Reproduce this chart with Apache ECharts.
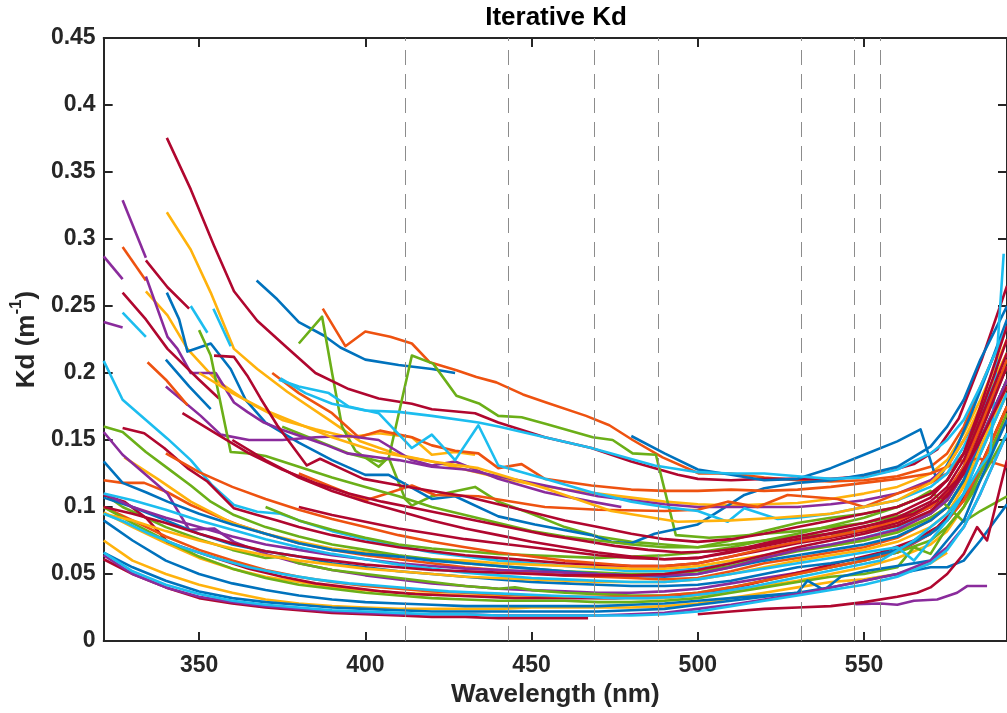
<!DOCTYPE html>
<html><head><meta charset="utf-8">
<script src="https://cdn.jsdelivr.net/npm/echarts@6/dist/echarts.min.js"></script>
<style>html,body{margin:0;padding:0;background:#fff;overflow:hidden}#c{width:1007px;height:713px}</style>
</head><body><div id="c"></div>
<script>
// Wavelength bands marked with dashed lines (nm)
const bandLines = [412, 443, 469, 488, 531, 547, 555];

// Kd spectra, [wavelength nm, Kd m^-1], grouped by line colour
const blueLines = [
  [[367.3,.269],[373.5,.255],[380,.238],[387.5,.228],[392.5,.219],[400,.21],[410,.206],[420,.203],[427,.2]],
  [[480,.153],[490,.14],[500,.128],[510,.124],[520,.12],[530,.121],[540,.129],[550,.139],[560,.149],[567,.158],[572,.119],[577,.14],[582,.168],[587,.2],[593,.24]],
  [[340.3,.26],[344,.24],[346.5,.216],[353.5,.222],[359.5,.203],[364,.18],[370,.163],[380,.148],[390,.135],[400,.124],[407,.124],[420,.106],[427,.108],[440,.093],[451,.087],[468,.079],[474,.074],[480,.073],[487,.08],[500,.087],[509,.101],[514,.109],[520,.114],[530,.118],[540,.12],[550,.124],[560,.13],[570,.145],[575,.16],[580,.18],[585,.21],[593,.25]],
  [[340,.21],[347,.19],[353.5,.173]],
  [[321.3,.134],[327,.118],[334,.111],[340.5,.104],[350,.095],[360,.087],[370,.08],[380,.073],[390,.068],[400,.065],[410,.063],[420,.06],[430,.058],[440,.056],[450,.054],[460,.052],[470,.05],[480,.049],[490,.048],[500,.05],[510,.055],[520,.06],[530,.064],[540,.068],[550,.072],[560,.078],[570,.09],[575,.1],[580,.12],[585,.15],[593,.195]],
  [[321.3,.09],[330,.075],[340,.06],[350,.05],[360,.043],[370,.038],[380,.034],[390,.031],[400,.029],[410,.028],[420,.027],[430,.026],[440,.026],[450,.026],[460,.026],[470,.026],[480,.027],[490,.028],[500,.03],[510,.032],[520,.034],[530,.036],[540,.04],[550,.045],[560,.05],[570,.055],[575,.055],[580,.06],[585,.075],[593,.102]],
  [[321.3,.107],[330,.1],[340,.09],[350,.08],[360,.072],[370,.067],[380,.063],[390,.058],[400,.055],[410,.052],[420,.05],[430,.048],[440,.046],[450,.044],[460,.043],[470,.042],[480,.041],[490,.041],[500,.042],[510,.045],[520,.05],[530,.055],[540,.058],[550,.062],[560,.068],[570,.08],[575,.09],[580,.11],[585,.14],[593,.185]],
  [[321.3,.066],[330,.055],[340,.045],[350,.037],[360,.032],[370,.029],[380,.027],[390,.025],[400,.024],[410,.023],[420,.022],[430,.022],[440,.022],[450,.022],[460,.022],[470,.022],[480,.023],[490,.024],[500,.027],[510,.03],[520,.033],[530,.036],[533,.045],[538,.038],[543,.048],[550,.052],[560,.056],[570,.06],[575,.075],[580,.09],[585,.12],[593,.165]]
];
const orangeLines = [
  [[387.2,.248],[394,.22],[400,.231],[407.5,.227],[414,.222],[419.4,.208],[427.4,.202],[433.4,.197],[439.4,.193],[447.4,.184],[454.4,.178],[466.4,.168],[473.4,.161],[480.4,.15],[489.4,.137],[500.4,.125],[510,.125],[520,.122],[530,.12],[540,.119],[550,.12],[560,.123],[570,.13],[575,.14],[580,.16],[585,.19],[593,.235]],
  [[327,.294],[334,.269]],
  [[321.3,.12],[327,.118],[333.5,.118],[340.5,.111],[347.5,.1015],[355.5,.093],[361.5,.087],[370,.08],[380,.073],[390,.068],[400,.064],[410,.061],[420,.058],[430,.055],[440,.053],[450,.051],[460,.049],[470,.048],[480,.047],[490,.046],[500,.047],[510,.052],[520,.058],[530,.062],[540,.066],[550,.07],[560,.077],[570,.09],[575,.1],[580,.12],[585,.15],[593,.195]],
  [[372,.2],[380,.185],[390,.17],[398,.152],[404.4,.157],[414,.152],[420,.146],[427,.142],[434,.14],[440,.129],[447,.132],[454,.121],[468,.116],[480,.113],[490,.112],[500,.112],[510,.113],[520,.112],[530,.113],[540,.115],[550,.118],[560,.121],[570,.125],[580,.135],[585,.136],[593,.13]],
  [[380,.125],[390,.115],[400,.105],[404,.108],[414,.116],[421,.109],[434,.108],[454,.1],[470,.098],[490,.097],[500,.098],[509,.104],[518,.1],[527,.109],[542,.106],[550,.1],[560,.11],[570,.118],[575,.125],[580,.14],[585,.16],[593,.205]],
  [[321.3,.1],[330,.09],[340,.078],[350,.068],[360,.06],[370,.053],[380,.048],[390,.044],[400,.041],[410,.039],[420,.037],[430,.036],[440,.035],[450,.034],[460,.033],[470,.033],[480,.033],[490,.034],[500,.036],[510,.04],[520,.045],[530,.05],[540,.055],[550,.06],[560,.067],[570,.08],[575,.09],[580,.105],[585,.13],[593,.175]],
  [[334.5,.208],[340,.195],[346.5,.176]],
  [[340,.14],[350,.126],[360,.115],[370,.106],[380,.098],[390,.091],[400,.085],[410,.079],[420,.074],[430,.07],[440,.066],[450,.063],[460,.06],[470,.058],[480,.056],[490,.056],[500,.058],[510,.063],[520,.069],[530,.074],[540,.078],[550,.083],[560,.09],[570,.1],[575,.112],[580,.13],[585,.16],[593,.21]]
];
const yellowLines = [
  [[340.3,.32],[347.5,.292],[353.5,.26],[360.5,.218],[367.5,.203],[376.5,.186],[388.5,.166],[398.5,.149],[410,.139],[420,.134],[430,.128],[440,.122],[450,.117],[460,.113],[470,.11],[480,.107],[490,.104],[500,.102],[510,.101],[520,.102],[530,.103],[540,.106],[550,.11],[560,.115],[570,.125],[575,.135],[580,.155],[585,.18],[593,.225]],
  [[334,.261],[340.5,.243],[346.5,.218],[355,.195],[365,.178],[375,.165],[385,.158],[395,.152],[404,.155],[414,.152],[420,.139],[427,.141],[433,.139]],
  [[327.5,.137],[337.5,.121],[347.5,.104],[360,.088],[370,.08],[380,.074],[390,.069],[400,.066],[410,.063],[420,.061],[430,.06],[440,.058],[450,.057],[460,.056],[470,.055],[480,.054],[490,.054],[500,.056],[510,.06],[520,.064],[530,.068],[540,.071],[550,.075],[560,.082],[570,.092],[575,.1],[580,.118],[585,.145],[593,.19]],
  [[321.3,.096],[330,.085],[340,.073],[350,.062],[360,.054],[370,.048],[380,.044],[390,.04],[400,.038],[410,.036],[420,.035],[430,.034],[440,.034],[450,.034],[460,.033],[470,.032],[480,.032],[490,.032],[500,.034],[510,.037],[520,.041],[530,.045],[540,.05],[550,.055],[560,.062],[570,.072],[575,.082],[580,.1],[585,.13],[593,.175]],
  [[321.3,.075],[330,.06],[340,.05],[350,.042],[360,.036],[370,.031],[380,.028],[390,.026],[400,.025],[410,.024],[420,.024],[430,.024],[440,.024],[450,.025],[460,.025],[470,.025],[480,.025],[490,.026],[500,.028],[510,.032],[520,.036],[530,.04],[540,.044],[550,.046],[560,.05],[570,.058],[575,.066]],
  [[350,.2],[360,.185],[370,.172],[380,.162],[390,.152],[400,.144],[404,.141],[420,.134],[434,.129],[454,.114],[474,.097],[494,.089],[510,.09],[524,.092],[540,.095],[550,.1],[560,.105],[570,.118],[575,.13],[580,.15],[585,.175],[593,.215]],
  [[321.3,.095],[330,.09],[340,.082],[350,.075],[360,.069],[370,.064],[380,.06],[390,.057],[400,.054],[410,.052],[420,.05],[430,.048],[440,.047],[450,.046],[460,.045],[470,.044],[480,.044],[490,.044],[500,.046],[510,.05],[520,.055],[530,.06],[540,.064],[550,.068],[560,.074],[570,.085],[575,.095],[580,.115],[585,.14],[593,.185]]
];
const purpleLines = [
  [[327,.329],[334,.286]],
  [[321.3,.287],[327,.27]],
  [[334,.272],[340.5,.227],[343.5,.218],[347.5,.2],[355,.2],[360.5,.178],[364.5,.171],[369.5,.163],[374.5,.158],[381.5,.152],[388.5,.146],[394.5,.14],[404,.137],[410,.135],[420,.13],[430,.128],[440,.123],[450,.118],[460,.113],[470,.108],[480,.105],[490,.102],[500,.1],[510,.1],[520,.1],[530,.1],[540,.102],[550,.105],[560,.11],[570,.12],[575,.13],[580,.15],[585,.17],[593,.205]],
  [[321.3,.156],[327,.139],[334,.124],[340.5,.11],[347,.083],[354.5,.084],[360.5,.074],[370,.065],[380,.058],[390,.053],[400,.049],[410,.046],[420,.043],[430,.041],[440,.039],[450,.038],[460,.037],[470,.036],[480,.036],[490,.037],[500,.039],[510,.043],[520,.047],[530,.051],[540,.055],[550,.06],[560,.066],[570,.08],[575,.09],[580,.105],[585,.125],[593,.165]],
  [[340,.19],[350.5,.168],[356.5,.154],[365,.15],[375,.15],[385,.152],[395,.153],[404,.15],[414,.135],[420,.131],[427,.134],[440,.121],[454,.111],[468,.104],[477,.1]],
  [[321.3,.238],[327,.234]],
  [[547.4,.0275],[555,.028],[560,.027],[565,.03],[572,.031],[578,.036],[581,.041],[587,.041]],
  [[321.3,.064],[330,.05],[340,.04],[350,.033],[360,.029],[370,.026],[380,.024],[390,.022],[400,.021],[410,.02],[420,.02],[430,.02],[440,.019],[450,.019],[460,.019],[470,.019],[480,.02],[490,.021],[500,.024],[510,.027],[520,.031],[530,.035],[540,.04],[550,.045],[560,.05],[570,.06],[575,.07],[580,.085],[585,.11],[593,.155]],
  [[321.3,.11],[330,.1],[340,.092],[350,.085],[360,.078],[370,.072],[380,.068],[390,.064],[400,.061],[410,.058],[420,.056],[430,.054],[440,.053],[450,.052],[460,.051],[470,.05],[480,.049],[490,.049],[500,.05],[510,.055],[520,.062],[530,.068],[540,.072],[550,.077],[560,.083],[570,.095],[575,.105],[580,.125],[585,.15],[593,.195]]
];
const greenLines = [
  [[380,.222],[387,.242],[390,.2],[393,.16],[397,.142],[404,.13],[407,.137],[412,.106],[414,.101],[420,.108],[433,.115],[440,.104],[450,.095],[460,.085],[470,.078],[480,.074],[490,.072],[500,.07],[510,.072],[520,.075],[530,.078],[540,.08],[550,.082],[560,.086],[570,.095],[575,.105],[580,.125],[585,.15],[593,.195]],
  [[375,.16],[385,.15],[395,.14],[404.4,.134],[407,.136],[414,.213],[420.4,.207],[427.4,.183],[434.4,.177],[440,.168],[447,.167],[454.4,.162],[468.4,.152],[474.4,.15],[480.4,.14],[487.4,.139],[493.4,.079],[503.4,.077],[510,.078],[520,.08],[530,.082],[540,.085],[550,.088],[560,.093],[570,.1],[575,.11],[580,.13],[585,.16],[593,.205]],
  [[321.3,.16],[327,.156],[334,.141],[340.5,.129],[347.5,.116],[353.5,.104],[360.5,.094],[370,.085],[380,.078],[390,.072],[400,.068],[410,.064],[420,.061],[430,.058],[440,.056],[450,.054],[460,.052],[470,.051],[480,.05],[490,.05],[500,.052],[510,.056],[520,.062],[530,.067],[540,.071],[550,.075],[560,.081],[570,.092],[575,.1],[580,.12],[585,.15],[593,.195]],
  [[321.3,.11],[327,.1],[334,.092],[340,.085],[350,.076],[360,.068],[370,.062],[375,.063],[380,.058],[390,.053],[400,.05],[410,.047],[420,.044],[430,.041],[440,.039],[445,.04],[450,.038],[460,.036],[470,.035],[480,.034],[490,.034],[500,.036],[510,.04],[520,.045],[530,.05],[540,.055],[550,.06],[560,.066],[570,.075],[575,.085],[580,.1],[585,.125],[593,.17]],
  [[350,.232],[353.5,.213],[359.5,.141],[365,.14],[370,.138],[380,.13],[390,.122],[400,.115],[410,.108],[420,.1],[430,.094],[440,.088],[450,.082],[460,.078],[470,.075],[480,.072],[490,.07],[500,.07],[510,.075],[520,.082],[530,.088],[540,.092],[550,.095],[560,.1],[570,.11],[575,.12],[580,.14],[585,.165],[593,.205]],
  [[321.3,.1],[330,.088],[340,.075],[350,.063],[360,.054],[370,.047],[380,.042],[390,.039],[400,.036],[410,.034],[420,.032],[430,.031],[440,.03],[450,.03],[460,.03],[470,.029],[480,.029],[490,.03],[500,.032],[510,.036],[520,.04],[530,.044],[540,.048],[550,.05],[560,.055],[565,.07],[570,.065],[575,.085],[580,.1],[585,.12],[593,.155]],
  [[370,.1],[380,.09],[390,.083],[400,.077],[410,.072],[420,.069],[430,.067],[440,.065],[450,.064],[460,.063],[470,.062],[480,.063],[490,.064],[500,.066],[510,.07],[520,.075],[530,.08],[540,.086],[550,.092],[560,.1],[565,.105],[570,.112],[580,.089],[585,.097],[593,.108]]
];
const cyanLines = [
  [[321.3,.209],[327,.18],[334,.165],[340.5,.151],[347.5,.135],[354,.116],[360.5,.1015],[367.5,.0965],[374.5,.095],[380,.09],[390,.082],[400,.076],[410,.071],[420,.066],[430,.063],[440,.06],[450,.058],[460,.056],[470,.054],[480,.052],[490,.052],[500,.054],[510,.058],[520,.063],[530,.068],[540,.072],[550,.077],[560,.084],[570,.095],[575,.108],[580,.13],[585,.16],[593,.205]],
  [[327,.245],[334,.227]],
  [[347.5,.25],[352.5,.23]],
  [[354.3,.248],[359.5,.22]],
  [[374,.195],[380,.19],[389,.185],[395,.175],[404,.17],[414,.144],[420,.154],[427,.135],[434,.161],[440,.131],[454,.121],[468,.111],[480,.104],[490,.1],[500,.097],[509,.089],[514,.099],[524,.091],[530,.092],[540,.095],[550,.1],[560,.105],[570,.115],[575,.125],[580,.145],[585,.17],[593,.215]],
  [[374.5,.196],[382,.185],[390,.177],[400,.172],[410,.171],[420,.168],[434,.163],[440,.16],[468,.144],[487,.131],[500,.126],[510,.125],[520,.125],[530,.123],[540,.121],[550,.122],[560,.128],[570,.14],[575,.15],[580,.165],[585,.19],[593,.235]],
  [[321.3,.095],[327.5,.089],[335,.08],[345,.07],[355,.062],[365,.055],[375,.05],[385,.046],[395,.043],[405,.041],[415,.039],[425,.037],[435,.036],[445,.035],[455,.034],[465,.033],[475,.032],[485,.032],[495,.033],[505,.036],[515,.04],[525,.045],[535,.05],[545,.055],[555,.06],[565,.075],[575,.095],[580,.11],[585,.13],[588,.14],[592,.289]],
  [[321.3,.066],[330,.052],[340,.042],[350,.035],[360,.03],[370,.027],[380,.025],[390,.023],[400,.022],[410,.021],[420,.02],[430,.02],[440,.019],[450,.019],[460,.019],[470,.019],[480,.019],[490,.02],[500,.022],[510,.026],[520,.03],[530,.034],[540,.038],[550,.042],[560,.048],[570,.058],[575,.068],[580,.085],[585,.11],[593,.155]],
  [[321.3,.11],[330,.105],[340,.098],[350,.09],[360,.083],[370,.076],[380,.07],[390,.065],[400,.061],[410,.057],[420,.054],[430,.051],[440,.049],[450,.047],[460,.046],[470,.045],[480,.044],[490,.044],[500,.046],[510,.05],[520,.054],[530,.058],[540,.062],[550,.066],[560,.07],[565,.06],[570,.075],[575,.09],[580,.11],[585,.14],[593,.185]]
];
const redLines = [
  [[340.3,.3755],[347.5,.337],[354.5,.295],[360.5,.261],[367.5,.239],[376.4,.219],[385,.2],[395,.188],[404,.181],[414,.177],[420,.173],[433,.17],[440,.163],[454,.152],[468,.144],[480,.134],[494,.124],[500,.121],[510,.12],[520,.121],[530,.121],[540,.121],[550,.123],[558,.127],[565,.132],[572,.143],[578.5,.166],[585.4,.21],[593,.265]],
  [[334,.284],[340.5,.264],[347,.248]],
  [[327,.26],[334,.24],[340.5,.218],[350,.195],[356,.181]],
  [[327,.159],[333.5,.155],[339.5,.144],[346.5,.129],[352.5,.119],[360.5,.099],[367.5,.094],[373.5,.09],[380,.085],[390,.079],[400,.074],[410,.07],[420,.067],[430,.064],[440,.062],[450,.06],[460,.058],[470,.057],[480,.056],[490,.056],[500,.058],[510,.063],[520,.068],[530,.073],[540,.077],[550,.082],[560,.088],[570,.1],[575,.11],[580,.13],[585,.16],[593,.205]],
  [[321.3,.109],[327.5,.104],[334,.092],[340.5,.074],[347.5,.068],[355,.062],[365,.054],[375,.048],[385,.043],[395,.04],[405,.037],[415,.035],[425,.034],[435,.033],[445,.032],[455,.032],[465,.032],[475,.032],[485,.033],[495,.034],[505,.037],[515,.042],[525,.048],[535,.054],[545,.06],[555,.066],[565,.075],[572,.085],[578,.1],[584,.125],[593,.175]],
  [[321.3,.061],[330,.05],[340,.04],[350,.032],[360,.028],[370,.025],[380,.023],[390,.021],[400,.02],[410,.019],[420,.018],[430,.018],[440,.017],[450,.017],[460,.017],[467,.017]],
  [[500,.02],[510,.022],[520,.024],[530,.025],[540,.026],[550,.029],[560,.033],[566,.036],[570,.04],[575,.05],[580,.065],[584,.085],[587,.075],[593,.135]],
  [[354.5,.213],[360.5,.212],[364.5,.198],[368.5,.181],[373.5,.161],[378.5,.144],[382.4,.131],[386.4,.136],[392.4,.129],[399.4,.121],[410.4,.116],[420,.112],[430,.108],[440,.102],[450,.096],[460,.09],[470,.085],[480,.08],[490,.076],[500,.074],[510,.076],[520,.08],[530,.085],[540,.09],[550,.095],[560,.1],[570,.11],[575,.12],[580,.14],[585,.17],[593,.225]],
  [[345,.17],[355,.155],[365,.14],[375,.128],[385,.118],[395,.11],[405,.104],[415,.099],[425,.094],[435,.089],[445,.084],[455,.079],[465,.075],[475,.071],[485,.068],[495,.066],[505,.067],[515,.07],[525,.074],[535,.078],[545,.083],[555,.088],[565,.095],[572,.105],[578,.12],[584,.145],[593,.19]],
  [[360,.15],[370,.135],[380,.122],[390,.112],[400,.104],[410,.097],[420,.09],[430,.084],[440,.079],[450,.074],[460,.07],[470,.066],[480,.063],[490,.061],[500,.062],[510,.066],[520,.071],[530,.076],[540,.08],[550,.085],[560,.092],[570,.104],[575,.115],[580,.135],[585,.165],[593,.215]],
  [[321.3,.1],[330,.095],[340,.088],[350,.08],[360,.073],[370,.067],[380,.063],[390,.06],[400,.057],[410,.055],[420,.053],[430,.052],[440,.051],[450,.05],[460,.049],[470,.049],[480,.049],[490,.05],[500,.053],[510,.058],[520,.064],[530,.07],[540,.075],[550,.08],[560,.086],[570,.097],[575,.108],[580,.125],[585,.155],[593,.205]],
  [[380,.1],[390,.094],[400,.089],[410,.084],[420,.08],[430,.076],[440,.073],[450,.07],[460,.067],[470,.064],[480,.062],[490,.061],[500,.062],[510,.067],[520,.073],[530,.078],[540,.083],[550,.088],[560,.095],[570,.107],[575,.12],[580,.14],[585,.175],[593,.235]]
];

const groups = [blueLines, orangeLines, yellowLines, purpleLines, greenLines, cyanLines, redLines];
const palette = ['#0072BD', '#EE5210', '#FFB20C', '#8A2B9C', '#6BAF18', '#1CBDEF', '#B0072F'];
const FONT = '"Liberation Sans", Arial, Helvetica, sans-serif';
const AX = '#262626';

const series = [];
const maxLen = Math.max(...groups.map(g => g.length));
for (let i = 0; i < maxLen; i++) {
  groups.forEach((g, gi) => {
    if (g[i]) series.push({
      type: 'line', data: g[i], showSymbol: false, symbol: 'none', silent: true, z: 3,
      lineStyle: { width: 2.6, color: palette[gi], join: 'round' }, itemStyle: { color: palette[gi] }
    });
  });
}
series.unshift({
  type: 'line', data: [], silent: true, z: 1,
  markLine: {
    silent: true, symbol: 'none', label: { show: false }, animation: false,
    lineStyle: { type: [15, 9], color: '#8c8c8c', width: 1 },
    data: bandLines.map(x => ({ xAxis: x }))
  }
});

const xCommon = { type: 'value', min: 321.3, max: 593, splitNumber: 5, minInterval: 50, maxInterval: 50, splitLine: { show: false } };
const yCommon = { type: 'value', min: 0, max: 0.45, interval: 0.05, splitLine: { show: false } };
const lineS = { show: true, onZero: false, lineStyle: { color: AX, width: 2 } };
const tickS = { show: true, inside: true, length: 9, lineStyle: { color: AX, width: 2 } };

const chart = echarts.init(document.getElementById('c'), null, { renderer: 'canvas' });
chart.setOption({
  animation: false,
  backgroundColor: '#fff',
  grid: { left: 103, top: 38, width: 906, height: 605, containLabel: false },
  graphic: [{
    type: 'text', x: 556, y: 18, silent: true,
    style: { text: 'Iterative Kd', font: 'bold 26px ' + FONT, fill: '#000',
      align: 'center', verticalAlign: 'middle', textAlign: 'center', textVerticalAlign: 'middle' }
  }],
  xAxis: [
    Object.assign({}, xCommon, {
      position: 'bottom', axisLine: lineS, axisTick: tickS,
      axisLabel: { fontSize: 23, fontWeight: 'bold', fontFamily: FONT, color: AX, margin: 13,
        showMinLabel: false, showMaxLabel: false,
        formatter: v => (Math.abs(v % 50) < 1e-6 ? String(v) : '') },
      name: 'Wavelength (nm)', nameLocation: 'middle', nameGap: 41,
      nameTextStyle: { fontSize: 26, fontWeight: 'bold', fontFamily: FONT, color: AX }
    }),
    Object.assign({}, xCommon, { position: 'top', axisLine: lineS, axisTick: tickS, axisLabel: { show: false } })
  ],
  yAxis: [
    Object.assign({}, yCommon, {
      position: 'left', axisLine: lineS, axisTick: tickS,
      axisLabel: { fontSize: 23, fontWeight: 'bold', fontFamily: FONT, color: AX, margin: 8,
        formatter: v => String(parseFloat(v.toFixed(2))) },
      name: '{a|Kd (m}{b|-1}{a|)}', nameLocation: 'middle', nameGap: 62,
      nameTextStyle: {
        color: AX,
        rich: {
          a: { fontSize: 26, fontWeight: 'bold', fontFamily: FONT, color: AX, lineHeight: 32, verticalAlign: 'bottom' },
          b: { fontSize: 17, fontWeight: 'bold', fontFamily: FONT, color: AX, lineHeight: 17, verticalAlign: 'top' }
        }
      }
    }),
    Object.assign({}, yCommon, { position: 'right', axisLine: lineS, axisTick: tickS, axisLabel: { show: false } })
  ],
  series: series
});
</script>
</body></html>
